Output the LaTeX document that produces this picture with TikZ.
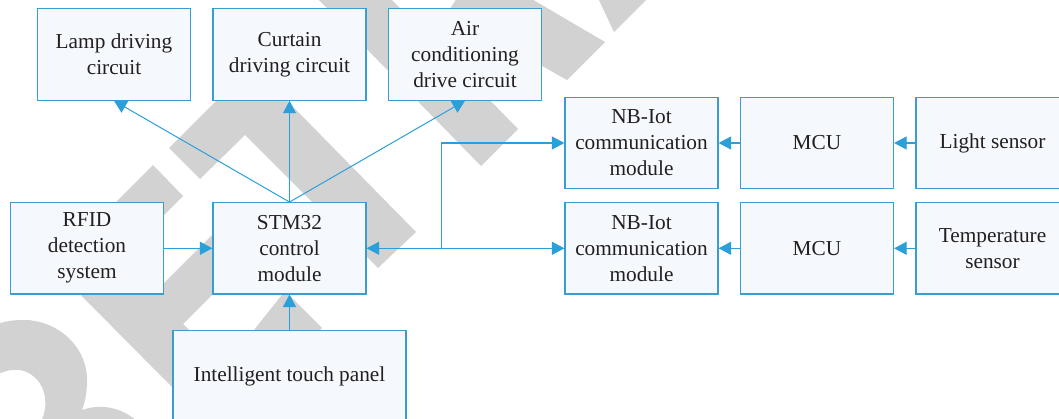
\documentclass[tikz,border=0pt]{standalone}
\usepackage{fontspec}
\setmainfont{Liberation Serif}
\usetikzlibrary{arrows.meta}
\definecolor{wm}{HTML}{D2D2D2}
\definecolor{boxfill}{HTML}{F5F8FC}
\definecolor{boxline}{HTML}{3A9DD0}
\definecolor{conn}{HTML}{2A9FD9}
\definecolor{ink}{HTML}{231F20}
\tikzset{
  wmark/.style={fill=wm,draw=none},
  blockbox/.style={draw=boxline,fill=boxfill,line width=1.2pt,minimum width=153pt,minimum height=91.3pt,
    inner sep=0pt,align=center,text=ink,font=\fontsize{21.3}{26}\selectfont},
  widebox/.style={blockbox,minimum width=233pt},
  conn/.style={draw=conn,line width=1.2pt},
  thin conn/.style={draw=conn,line width=1pt},
  tip/.style={-{Triangle[length=12.5pt,width=13pt]}}
}
\begin{document}
\begin{tikzpicture}[x=1pt,y=-1pt]
\clip (0,0) rectangle (1059,419);
\fill[white] (0,0) rectangle (1059,419);
% watermark
\path[wmark] (317,-2) -- (390,-2) -- (518,129) -- (481,166) -- cycle;
\path[wmark] (457,-2) -- (530,-2) -- (605,42) -- (567,80) -- (480,31) -- (430,40) -- cycle;
\path[wmark] (598,-2) -- (614,32) -- (648,-2) -- cycle;
\path[wmark] (169,148) -- (252,65) -- (416,232) -- (378,268) -- (245,135) -- (200,179) -- cycle;
\path[wmark] (52,266) -- (153,165) -- (183,196) -- (126,253) -- (160,287) -- (240,207) -- (270,237) -- (183,324) -- (230,371) -- (215,430) -- (172,387) -- cycle;
\path[wmark] (322,328) -- (285,291) -- (250,335) -- (280,370) -- cycle;
\path[wmark] (-2,324) .. controls (8,320) and (18,320) .. (27,320)
  .. controls (60,322) and (88,348) .. (87,382) .. controls (87,392) and (85,402) .. (82,410)
  .. controls (102,403) and (122,408) .. (137,421) -- (41,421)
  .. controls (45,414) and (46,406) .. (45,398) .. controls (43,380) and (28,368) .. (13,370)
  .. controls (8,370) and (3,372) .. (-2,374) -- cycle;
% blocks
\node[blockbox] (lamp) at (114,54.5) {Lamp driving\\circuit};
\node[blockbox] (curtain) at (289.5,54.5) {Curtain\\driving circuit};
\node[blockbox] (air) at (465,54.5) {Air\\conditioning\\drive circuit};
\node[blockbox] (nba) at (641.5,143) {NB-Iot\\communication\\module};
\node[blockbox] (mcua) at (817,143) {MCU};
\node[blockbox] (light) at (992.5,143) {Light sensor};
\node[blockbox] (nbb) at (641.5,248.3) {NB-Iot\\communication\\module};
\node[blockbox] (mcub) at (817,248.3) {MCU};
\node[blockbox] (temp) at (992.5,248.3) {Temperature\\sensor};
\node[blockbox] (rfid) at (87,248.3) {RFID\\detection\\system};
\node[blockbox] (stm) at (289.5,248.3) {STM32\\control\\module};
\node[widebox] (panel) at (289.5,376.3) {Intelligent touch panel};
\coordinate (jlow) at (441.7,248.3);
\coordinate (jup) at (441.7,143);
% connectors
\draw[thin conn,tip] (stm.north) -- (lamp.south);
\draw[thin conn,tip] (stm.north) -- (curtain.south);
\draw[thin conn,tip] (stm.north) -- (air.south);
\draw[conn,tip] (rfid.east) -- (stm.west);
\draw[conn,tip] (panel.north) -- (stm.south);
\draw[conn,tip] (jlow) -- (stm.east);
\draw[conn,tip] (jlow) -- (nbb.west);
\draw[conn,tip] (jlow) -- (jup) -- (nba.west);
\draw[conn,tip] (mcua.west) -- (nba.east);
\draw[conn,tip] (light.west) -- (mcua.east);
\draw[conn,tip] (mcub.west) -- (nbb.east);
\draw[conn,tip] (temp.west) -- (mcub.east);
\end{tikzpicture}
\end{document}
